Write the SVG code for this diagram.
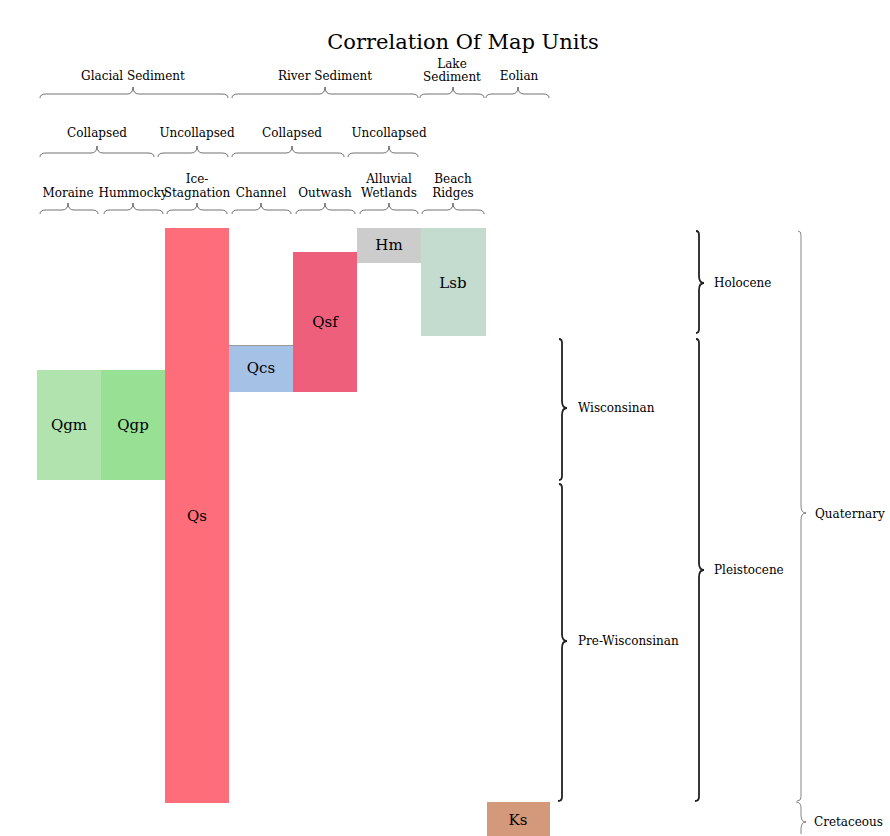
<svg xmlns="http://www.w3.org/2000/svg" width="890" height="836" viewBox="0 0 890 836">
<style>
text{font-family:"DejaVu Serif","Liberation Serif",serif;fill:#000;}
.t{font-size:12px;text-anchor:middle;}
.u{font-size:15px;text-anchor:middle;}
.r{font-size:12px;text-anchor:start;}
.b{fill:none;stroke:#333;stroke-width:0.7;}
.v{fill:none;stroke:#222;stroke-width:1.8;}
.q{fill:none;stroke:#333;stroke-width:0.6;}
</style>
<rect width="890" height="836" fill="#fff"/>
<text x="463" y="49" style="font-size:21px;text-anchor:middle;">Correlation Of Map Units</text>

<g id="connectors">
<path class="b" d="M40,98 q0,-4 6,-4 L127,94 q6,0 6,-7 q0,7 6,7 L222,94 q6,0 6,4"/>
<path class="b" d="M232,98 q0,-4 6,-4 L319,94 q6,0 6,-7 q0,7 6,7 L412,94 q6,0 6,4"/>
<path class="b" d="M420,98 q0,-4 6,-4 L447,94 q6,0 6,-7 q0,7 6,7 L478,94 q6,0 6,4"/>
<path class="b" d="M486,98 q0,-4 6,-4 L512,94 q6,0 6,-7 q0,7 6,7 L543,94 q6,0 6,4"/>
<path class="b" d="M40,157 q0,-4 6,-4 L91,153 q6,0 6,-7 q0,7 6,7 L148,153 q6,0 6,4"/>
<path class="b" d="M158,157 q0,-4 6,-4 L191,153 q6,0 6,-7 q0,7 6,7 L222,153 q6,0 6,4"/>
<path class="b" d="M232,157 q0,-4 6,-4 L286,153 q6,0 6,-7 q0,7 6,7 L338,153 q6,0 6,4"/>
<path class="b" d="M348,157 q0,-4 6,-4 L383,153 q6,0 6,-7 q0,7 6,7 L412,153 q6,0 6,4"/>
<path class="b" d="M40,214 q0,-4 6,-4 L62,210 q6,0 6,-7 q0,7 6,7 L92,210 q6,0 6,4"/>
<path class="b" d="M104,214 q0,-4 6,-4 L127,210 q6,0 6,-7 q0,7 6,7 L157,210 q6,0 6,4"/>
<path class="b" d="M167,214 q0,-4 6,-4 L191,210 q6,0 6,-7 q0,7 6,7 L221,210 q6,0 6,4"/>
<path class="b" d="M232,214 q0,-4 6,-4 L255,210 q6,0 6,-7 q0,7 6,7 L285,210 q6,0 6,4"/>
<path class="b" d="M296,214 q0,-4 6,-4 L319,210 q6,0 6,-7 q0,7 6,7 L349,210 q6,0 6,4"/>
<path class="b" d="M360,214 q0,-4 6,-4 L383,210 q6,0 6,-7 q0,7 6,7 L412,210 q6,0 6,4"/>
<path class="b" d="M422,214 q0,-4 6,-4 L447,210 q6,0 6,-7 q0,7 6,7 L478,210 q6,0 6,4"/>
<path class="v" d="M696,231 q3,0 3,4 L699,276 q0,7 5,7 q-5,0 -5,7 L699,329 q0,4 -3,4"/>
<path class="v" d="M696,339 q3,0 3,4 L699,563 q0,7 5,7 q-5,0 -5,7 L699,797 q0,4 -4,4"/>
<path class="v" d="M559,339 q3,0 3,4 L562,401 q0,7 5,7 q-5,0 -5,7 L562,476 q0,4 -3,4"/>
<path class="v" d="M559,484 q3,0 3,4 L562,634 q0,7 5,7 q-5,0 -5,7 L562,797 q0,4 -4,4"/>
<path class="q" d="M798,231 q3,0 3,4 L801,506 q0,7 5,7 q-5,0 -5,7 L801,797 q0,4 -4,4"/>
<path class="q" d="M796,802 q5,0 5,6 L801,815 q0,7 5,7 q-5,0 -5,7 L801,834"/>
</g>

<g id="labels">
<text class="t" x="133" y="80">Glacial Sediment</text>
<text class="t" x="325" y="80">River Sediment</text>
<text class="t" x="452" y="68">Lake</text>
<text class="t" x="452" y="81">Sediment</text>
<text class="t" x="519" y="80">Eolian</text>
<text class="t" x="97" y="137">Collapsed</text>
<text class="t" x="197" y="137">Uncollapsed</text>
<text class="t" x="292" y="137">Collapsed</text>
<text class="t" x="389" y="137">Uncollapsed</text>
<text class="t" x="68" y="197">Moraine</text>
<text class="t" x="133" y="197">Hummocky</text>
<text class="t" x="197" y="183">Ice-</text>
<text class="t" x="197" y="197">Stagnation</text>
<text class="t" x="261" y="197">Channel</text>
<text class="t" x="325" y="197">Outwash</text>
<text class="t" x="389" y="183">Alluvial</text>
<text class="t" x="389" y="197">Wetlands</text>
<text class="t" x="453" y="183">Beach</text>
<text class="t" x="453" y="197">Ridges</text>
<text class="r" x="714" y="287">Holocene</text>
<text class="r" x="714" y="574">Pleistocene</text>
<text class="r" x="578" y="412">Wisconsinan</text>
<text class="r" x="578" y="645">Pre-Wisconsinan</text>
<text class="r" x="815" y="518">Quaternary</text>
<text class="r" x="814" y="826">Cretaceous</text>
</g>

<g id="Qgm"><rect x="37" y="370" width="64" height="110" fill="#b0e3ae"/><text class="u" x="69" y="430">Qgm</text></g>
<g id="Qgp"><rect x="101" y="370" width="64" height="110" fill="#98e094"/><text class="u" x="133" y="430">Qgp</text></g>
<g id="Qs"><rect x="165" y="228" width="64" height="575" fill="#fe6d7a"/><text class="u" x="197" y="521">Qs</text></g>
<g id="Qcs"><rect x="229" y="345" width="64" height="47" fill="#a6c1e6"/><line x1="229" y1="345.5" x2="293" y2="345.5" stroke="#999" stroke-width="1"/><text class="u" x="261" y="373">Qcs</text></g>
<g id="Qsf"><rect x="293" y="252" width="64" height="140" fill="#ee5f7c"/><text class="u" x="325" y="327">Qsf</text></g>
<g id="Hm"><rect x="357" y="228" width="64" height="35" fill="#cccccc"/><text class="u" x="389" y="250">Hm</text></g>
<g id="Lsb"><rect x="421" y="228" width="65" height="108" fill="#c4dbd0"/><text class="u" x="453" y="288">Lsb</text></g>
<g id="Ks"><rect x="487" y="802" width="63" height="34" fill="#d4987a"/><text class="u" x="518" y="825">Ks</text></g>
</svg>
